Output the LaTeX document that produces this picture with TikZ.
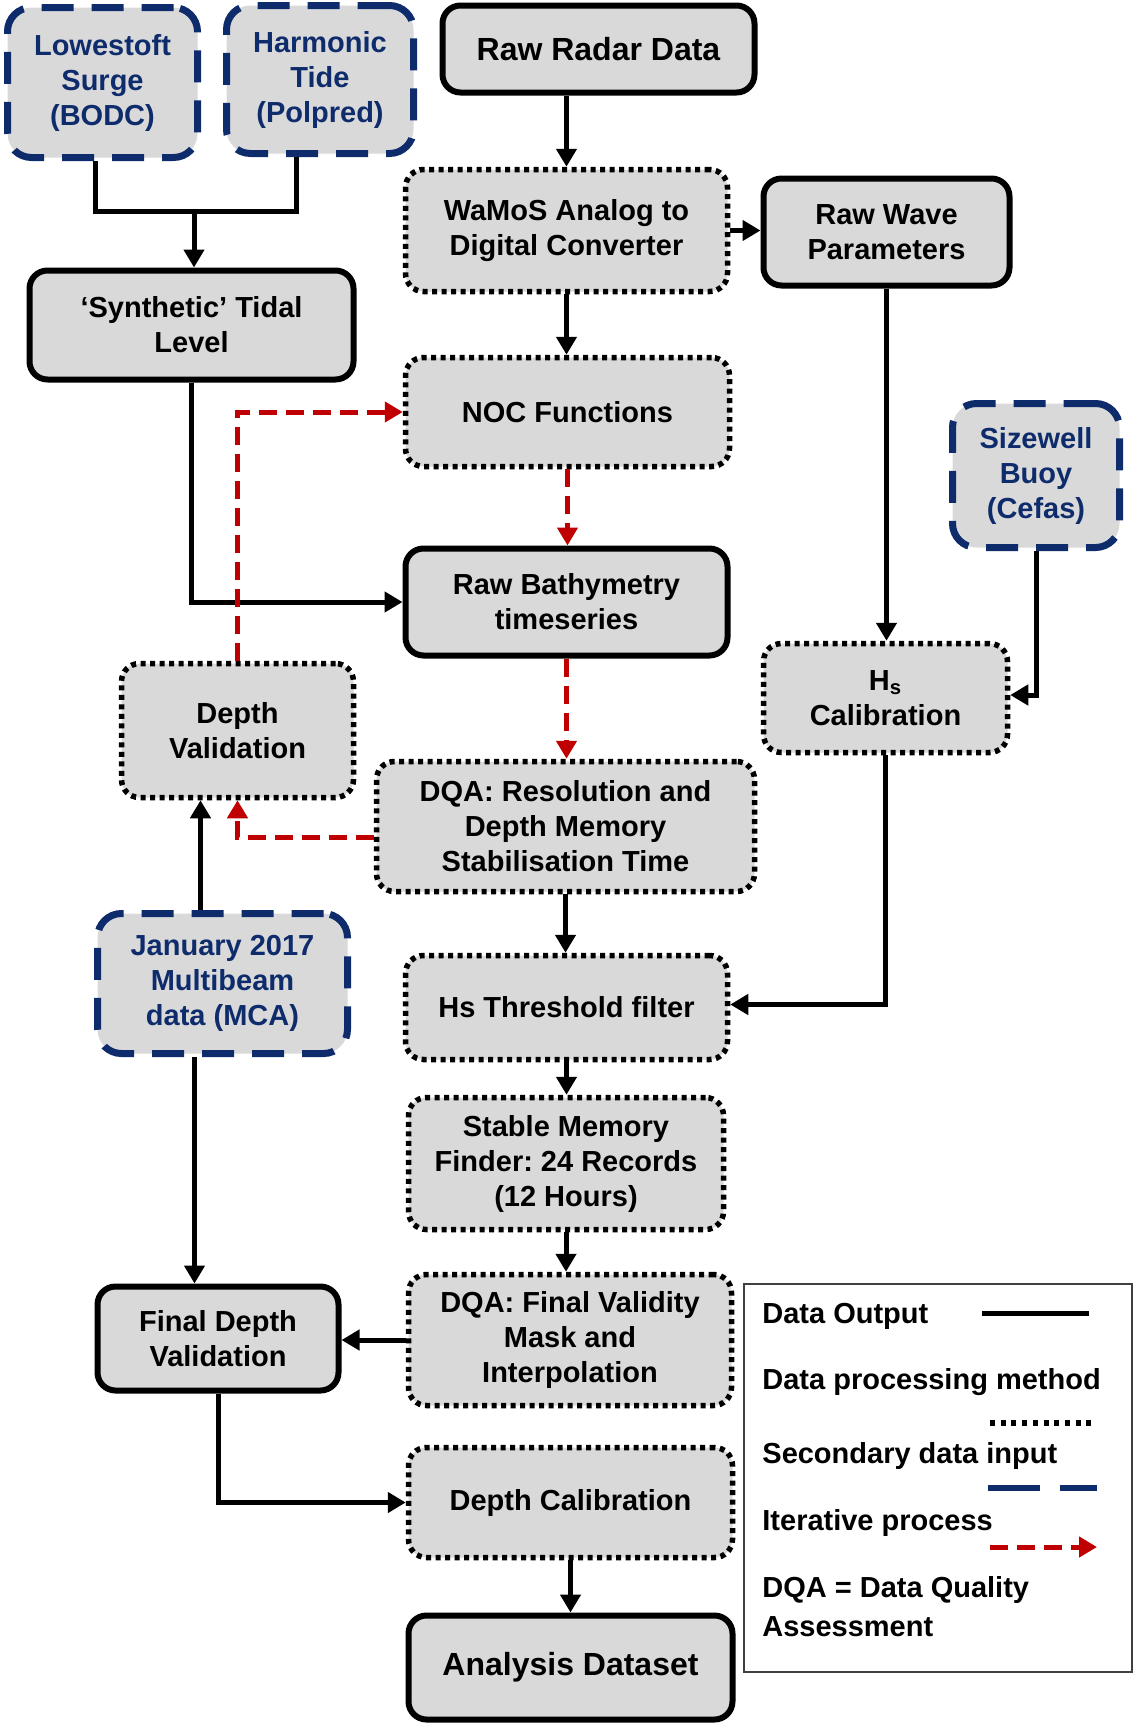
\documentclass[tikz,border=0pt]{standalone}
\usepackage{fontspec}
\setmainfont{Liberation Sans}
\usetikzlibrary{arrows.meta}
\definecolor{boxfill}{HTML}{D9D9D9}
\definecolor{navyblue}{HTML}{0E2C6B}
\definecolor{darkred}{HTML}{C00000}
\frenchspacing
\begin{document}
\begin{tikzpicture}[x=0.5pt,y=-0.5pt,
  base/.style={fill=boxfill, align=center, inner sep=0pt, font=\fontsize{14.5}{17.5}\selectfont\bfseries},
  solidbox/.style={base, draw=black, line width=3pt, rounded corners=9pt},
  dotbox/.style={base, draw=black, line width=2.75pt, dash pattern=on 2.5pt off 2.25pt, rounded corners=9pt},
  dashbox/.style={base, draw=navyblue, text=navyblue, line width=3.5pt, dash pattern=on 16pt off 9pt, rounded corners=12pt},
  big/.style={font=\fontsize{16}{19}\selectfont\bfseries},
  conn/.style={draw=black, line width=2.5pt},
  arr/.style={conn, -{Triangle[length=9pt,width=10pt]}},
  iter/.style={draw=darkred, line width=2.5pt, dash pattern=on 9pt off 4.5pt, -{Triangle[length=9pt,width=10pt]}},
  legtext/.style={anchor=base west, inner sep=0pt, font=\fontsize{14.5}{17.5}\selectfont\bfseries}
]
\useasboundingbox (0,0) rectangle (1133,1725);

% nodes
\node[dashbox, minimum width=95pt, minimum height=75pt] (low) at (102.5,82.5) {Lowestoft\\Surge\\(BODC)};
\node[dashbox, minimum width=93.5pt, minimum height=74pt] (harm) at (320,79.5) {Harmonic\\Tide\\(Polpred)};
\node[solidbox, big, minimum width=156pt, minimum height=43.5pt] (radar) at (598.5,49) {Raw Radar Data};
\node[dotbox, minimum width=161pt, minimum height=61pt] (wamos) at (566.5,230.5) {WaMoS Analog to\\Digital Converter};
\node[solidbox, minimum width=123pt, minimum height=53.5pt] (wave) at (886.5,232) {Raw Wave\\Parameters};
\node[solidbox, minimum width=162pt, minimum height=54.5pt] (synth) at (191.5,325) {‘Synthetic’ Tidal\\Level};
\node[dotbox, minimum width=162pt, minimum height=54.5pt] (noc) at (567.5,412) {NOC Functions};
\node[dashbox, minimum width=83.5pt, minimum height=72pt] (size) at (1036,475.5) {Sizewell\\Buoy\\(Cefas)};
\node[solidbox, minimum width=161pt, minimum height=53.5pt] (bathy) at (566.5,602) {Raw Bathymetry\\timeseries};
\node[dotbox, minimum width=116pt, minimum height=67pt] (dval) at (237.5,730.5) {Depth\\Validation};
\node[dotbox, minimum width=122pt, minimum height=54.5pt] (hscal) at (885.5,698) {H\textsubscript{s}\\Calibration};
\node[dotbox, minimum width=189pt, minimum height=65pt] (dqa1) at (565.5,826.5) {DQA: Resolution and\\Depth Memory\\Stabilisation Time};
\node[dashbox, minimum width=125pt, minimum height=70pt] (jan) at (222.5,983.5) {January 2017\\Multibeam\\data (MCA)};
\node[dotbox, minimum width=161pt, minimum height=52pt] (hsthr) at (566.5,1007.5) {Hs Threshold filter};
\node[dotbox, minimum width=157.5pt, minimum height=66pt] (stable) at (566,1163.5) {Stable Memory\\Finder: 24 Records\\(12 Hours)};
\node[solidbox, minimum width=120.5pt, minimum height=52pt] (fdv) at (218,1338.5) {Final Depth\\Validation};
\node[dotbox, minimum width=161.5pt, minimum height=65.5pt] (dqa2) at (570,1340) {DQA: Final Validity\\Mask and\\Interpolation};
\node[dotbox, minimum width=162pt, minimum height=55pt] (dcal) at (570.5,1502.5) {Depth Calibration};
\node[solidbox, big, minimum width=162pt, minimum height=52pt] (anal) at (570.5,1667.5) {Analysis Dataset};

% connectors
\coordinate (j1) at (194,211);
\draw[conn] ([xshift=-3.5pt]low.south) |- (j1) -| ([xshift=-12pt]harm.south);
\draw[arr] (j1) -- (synth.north -| j1);
\draw[arr] (radar.south -| wamos.north) -- (wamos.north);
\draw[arr] (wamos.east) -- (wave.west |- wamos.east);
\draw[arr] (wamos.south) -- (wamos.south |- noc.north);
\draw[arr] (wave.south) -- (wave.south |- hscal.north);
\draw[arr] (size.south) |- ([yshift=1.5pt]hscal.east);
\draw[arr] (synth.south) |- (bathy.west);
\draw[iter] (noc.south) -- (noc.south |- bathy.north);
\draw[iter] (bathy.south) -- (bathy.south |- dqa1.north);
\draw[iter] ([yshift=-5.5pt]dqa1.west) -| (dval.south);
\draw[iter] (dval.north) |- (noc.west);
\draw[arr] ([xshift=-11pt]jan.north) -- ([xshift=-11pt]jan.north |- dval.south);
\draw[arr] (dqa1.south) -- (dqa1.south |- hsthr.north);
\draw[arr] (hscal.south) |- ([yshift=1.5pt]hsthr.east);
\draw[arr] (hsthr.south) -- (hsthr.south |- stable.north);
\draw[arr] (stable.south) -- (stable.south |- dqa2.north);
\draw[arr] ([xshift=-14pt]jan.south) -- ([xshift=-14pt]jan.south |- fdv.north);
\draw[arr] (dqa2.west) -- (dqa2.west -| fdv.east);
\draw[arr] (fdv.south) |- (dcal.west);
\draw[arr] (dcal.south) -- (dcal.south |- anal.north);

% legend
\draw[line width=0.6pt, draw=black!75] (744,1284) rectangle (1132,1672);
\node[legtext] (l1) at (762,1323) {Data Output};
\node[legtext] (l2) at (762,1389) {Data processing method};
\node[legtext] (l3) at (762,1463) {Secondary data input};
\node[legtext] (l4) at (762,1530) {Iterative process};
\node[legtext] (l5) at (762,1597) {DQA = Data Quality};
\node[legtext] (l6) at (762,1636) {Assessment};
\draw[line width=2.5pt] (982,1313) -- (1089,1313);
\draw[line width=2.75pt, dash pattern=on 2.5pt off 2.85pt] (990,1423) -- (1096,1423);
\draw[line width=2.75pt, draw=navyblue, dash pattern=on 26pt off 10pt] (988,1488) -- (1097,1488);
\draw[iter] (990,1547) -- (1097,1547);
\end{tikzpicture}
\end{document}
